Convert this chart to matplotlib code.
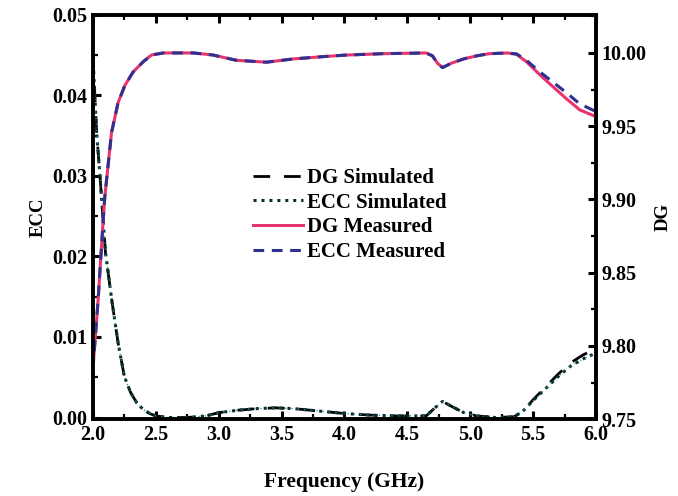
import matplotlib
matplotlib.use("Agg")
import matplotlib.pyplot as plt
from matplotlib.ticker import MultipleLocator

plt.rcParams["font.family"] = ["Liberation Serif", "DejaVu Serif"]
plt.rcParams["font.weight"] = "bold"

# top pair (right axis, DG)
freq_top = [2.0, 2.042, 2.082, 2.095, 2.148, 2.2, 2.255, 2.32, 2.4, 2.466, 2.56,
            2.8, 2.955, 3.14, 3.38, 3.59, 3.83, 4.0, 4.3, 4.65, 4.7, 4.74, 4.78,
            4.85, 4.95, 5.05, 5.15, 5.3, 5.37, 5.447, 5.555, 5.66, 5.767, 5.87, 6.0]
dg_meas = [9.784, 9.832, 9.886, 9.902, 9.9455, 9.966, 9.978, 9.987, 9.994, 9.9986, 10.0,
           10.0, 9.9986, 9.995, 9.9937, 9.9959, 9.9975, 9.9985, 9.9995, 10.0, 9.998, 9.993, 9.990,
           9.993, 9.996, 9.998, 9.9995, 10.0, 9.999, 9.994, 9.985, 9.9768, 9.9686, 9.9612, 9.9565]
ecc_meas = [9.784, 9.832, 9.886, 9.902, 9.9455, 9.966, 9.978, 9.987, 9.994, 9.9986, 10.0,
            10.0, 9.9986, 9.995, 9.9937, 9.9959, 9.9975, 9.9985, 9.9995, 10.0, 9.998, 9.993, 9.990,
            9.993, 9.996, 9.998, 9.9995, 10.0, 9.9993, 9.995, 9.987, 9.980, 9.9727, 9.9653, 9.960]

# bottom pair (left axis, ECC)
freq_bot = [2.0, 2.03, 2.06, 2.1, 2.15, 2.2, 2.25, 2.3, 2.35, 2.4, 2.45, 2.5, 2.6,
            2.75, 2.9, 3.0, 3.15, 3.3, 3.45, 3.6, 3.8, 4.0, 4.2, 4.4, 4.65, 4.72,
            4.78, 4.85, 4.95, 5.05, 5.2, 5.35, 5.42, 5.5, 5.6, 5.7, 5.8, 5.9, 6.0]
dg_sim = [0.045, 0.0354, 0.0292, 0.0205, 0.0146, 0.0093, 0.0051, 0.0031, 0.0018, 0.001, 0.0005,
          0.0002, 0.0, 0.0, 0.0002, 0.0006, 0.0009, 0.0011, 0.0012, 0.0011, 0.0008, 0.0005, 0.0003,
          0.0002, 0.0002, 0.0012, 0.002, 0.0014, 0.0006, 0.0002, 0.0, 0.0001, 0.0008, 0.0022,
          0.0038, 0.0054, 0.0068, 0.0078, 0.0085]
ecc_sim = [0.045, 0.0354, 0.0292, 0.0205, 0.0146, 0.0093, 0.0051, 0.0031, 0.0018, 0.001, 0.0005,
           0.0002, 0.0, 0.0, 0.0002, 0.0006, 0.0009, 0.0011, 0.0012, 0.0011, 0.0008, 0.0005, 0.0003,
           0.0002, 0.0002, 0.0012, 0.002, 0.0014, 0.0006, 0.0002, 0.0, 0.0001, 0.0008, 0.0021,
           0.0036, 0.0051, 0.0064, 0.0073, 0.008]

fig = plt.figure(figsize=(6.78, 4.96), dpi=100)
ax = fig.add_axes([0.137, 0.155, 0.742, 0.815])
ax2 = ax.twinx()

l1, = ax.plot(freq_bot, dg_sim, color="black", lw=2.0, dashes=(6, 5), label="DG Simulated")
l2, = ax.plot(freq_bot, ecc_sim, color="#0b2f2f", lw=2.2, linestyle=(0, (1, 1.6)),
              label="ECC Simulated")
ax.plot(freq_bot, ecc_sim, color="#1e8c8c", lw=0.9, linestyle=(0, (1, 4)))
l3, = ax2.plot(freq_top, dg_meas, color="#e8336d", lw=2.2, label="DG Measured")
l4, = ax2.plot(freq_top, ecc_meas, color="#2e3192", lw=2.2, dashes=(3.5, 2.5),
               label="ECC Measured")

ax.set_xlim(2.0, 6.0)
ax.set_ylim(-0.0002, 0.05)
ax2.set_ylim(9.75, 10.026)

ax.xaxis.set_major_locator(MultipleLocator(0.5))
ax.xaxis.set_minor_locator(MultipleLocator(0.25))
ax.yaxis.set_major_locator(MultipleLocator(0.01))
ax.yaxis.set_minor_locator(MultipleLocator(0.005))
ax2.yaxis.set_major_locator(MultipleLocator(0.05))
ax2.yaxis.set_minor_locator(MultipleLocator(0.025))
ax.yaxis.set_major_formatter(plt.FormatStrFormatter("%.2f"))
ax2.yaxis.set_major_formatter(plt.FormatStrFormatter("%.2f"))
ax.xaxis.set_major_formatter(plt.FormatStrFormatter("%.1f"))

ax.tick_params(axis="x", which="both", direction="in", top=True, labelsize=14.5)
ax.tick_params(axis="y", which="both", direction="in", labelsize=14.5)
ax2.tick_params(axis="y", which="both", direction="in", labelsize=14.5)
for a in (ax, ax2):
    a.tick_params(which="major", length=6, width=2.2, pad=4)
    a.tick_params(which="minor", length=3.5, width=1.6)
    for s in a.spines.values():
        s.set_linewidth(2.6)

ax.set_xlabel("Frequency (GHz)", fontsize=15.5, fontweight="bold", labelpad=20)
ax.set_ylabel("ECC", fontsize=13.5, fontweight="bold", labelpad=4)
ax2.set_ylabel("DG", fontsize=13.5, fontweight="bold", labelpad=6)

ax.legend(handles=[l1, l2, l3, l4], loc="center", bbox_to_anchor=(0.51, 0.505),
          frameon=False, handlelength=2.4, handletextpad=0.2,
          labelspacing=0.22, prop={"weight": "bold", "size": 15})

fig.savefig("out.png", dpi=100)
